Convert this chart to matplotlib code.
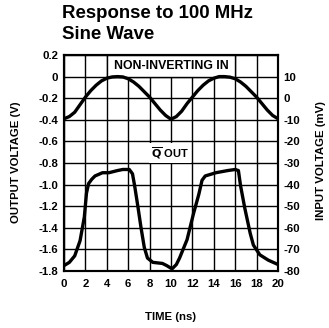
import matplotlib
matplotlib.use('Agg')
import matplotlib.pyplot as plt
from matplotlib.patches import Rectangle
import numpy as np

plt.rcParams['font.family'] = ['Liberation Sans', 'DejaVu Sans']
plt.rcParams['font.weight'] = 'bold'

# NON-INVERTING IN (read on the left axis, volts)
t_in = [0, 0.5, 1, 1.5, 2, 2.5, 3, 3.5, 4, 4.5, 5, 5.5, 6, 6.5, 7, 7.5, 8, 8.5, 9, 9.5,
        10, 10.5, 11, 11.5, 12, 12.5, 13, 13.5, 14, 14.5, 15, 15.5, 16, 16.5, 17, 17.5,
        18, 18.5, 19, 19.5, 20]
v_in = [-0.39, -0.37, -0.33, -0.26, -0.19, -0.13, -0.08, -0.04, -0.015, -0.003, 0.0,
        -0.003, -0.02, -0.05, -0.09, -0.14, -0.19, -0.25, -0.31, -0.36,
        -0.395, -0.37, -0.32, -0.25, -0.19, -0.13, -0.08, -0.04, -0.015, 0.0,
        0.0, -0.005, -0.02, -0.05, -0.09, -0.14, -0.19, -0.25, -0.31, -0.36, -0.39]

# Q-bar OUT (volts)
t_out = [0, 0.5, 1.0, 1.5, 1.9, 2.1, 2.3, 2.6, 2.9, 3.6, 4.2, 5.0, 5.5, 6.1, 6.4, 6.6,
         6.9, 7.2, 7.5, 7.8, 8.3, 9.2, 9.6, 10.1, 10.5, 10.8, 11.5, 12.1, 12.6, 12.9,
         13.2, 14.2, 15.3, 16.0, 16.3, 16.5, 16.9, 17.4, 17.7, 18.3, 19.1, 20]
v_out = [-1.75, -1.72, -1.66, -1.52, -1.30, -1.08, -0.99, -0.95, -0.92, -0.89, -0.89,
         -0.87, -0.86, -0.86, -0.90, -1.01, -1.20, -1.40, -1.58, -1.68, -1.72, -1.73,
         -1.75, -1.78, -1.74, -1.68, -1.51, -1.27, -1.09, -0.96, -0.92, -0.89, -0.87,
         -0.86, -0.87, -1.01, -1.22, -1.45, -1.56, -1.65, -1.70, -1.74]

x_ticks = [0, 2, 4, 6, 8, 10, 12, 14, 16, 18, 20]
y_ticks = [0.2, 0, -0.2, -0.4, -0.6, -0.8, -1.0, -1.2, -1.4, -1.6, -1.8]
y_labels = ['0.2', '0', '-0.2', '-0.4', '-0.6', '-0.8', '-1.0', '-1.2', '-1.4', '-1.6', '-1.8']
r_ticks = [10, 0, -10, -20, -30, -40, -50, -60, -70, -80]
r_labels = ['10', '0', '-10', '-20', '-30', '-40', '-50', '-60', '-70', '-80']

W, H = 329, 328
fig = plt.figure(figsize=(W / 100, H / 100), dpi=100)
ax = fig.add_axes([64 / W, 1 - 271 / H, 214 / W, 216 / H])

ax.set_xlim(0, 20)
ax.set_ylim(-1.8, 0.2)
ax.set_xticks(x_ticks)
ax.set_yticks(y_ticks)
ax.set_yticklabels(y_labels)
ax.grid(True, color='black', lw=1.0)
ax.set_axisbelow(True)
ax.tick_params(length=0, labelsize=8.2, pad=4)
ax.tick_params(axis='x', pad=6)
for s in ax.spines.values():
    s.set_linewidth(1.5)

ax.plot(t_in, v_in, color='black', lw=2.4, zorder=3, solid_capstyle='butt')
ax.plot(t_out, v_out, color='black', lw=2.4, zorder=3, solid_capstyle='butt')

ax.add_patch(Rectangle((4, 0), 12, 0.2, facecolor='white', edgecolor='black', lw=1.0, zorder=2))
ax.text(10, 0.1, 'NON-INVERTING IN', ha='center', va='center', fontsize=8.8, zorder=4)
ax.text(9.9, -0.71, r'$\overline{\mathbf{Q}}$ OUT', ha='center', va='center', fontsize=8,
        zorder=4, bbox=dict(facecolor='white', edgecolor='none', pad=1.5))

ax2 = ax.twinx()
ax2.set_ylim(-80, 20)
ax2.set_yticks(r_ticks)
ax2.set_yticklabels(r_labels)
ax2.tick_params(length=0, labelsize=8.2, pad=4)
for s in ax2.spines.values():
    s.set_linewidth(1.5)

fig.text(62 / W, 1 - 18.3 / H, 'Response to 100 MHz', fontsize=13.4, fontweight='bold', va='baseline')
fig.text(62 / W, 1 - 39.3 / H, 'Sine Wave', fontsize=13.4, fontweight='bold', va='baseline')
fig.text(16 / W, 1 - 162 / H, 'OUTPUT VOLTAGE (V)', rotation=90, ha='center', va='center', fontsize=8.2)
fig.text(321 / W, 1 - 161 / H, 'INPUT VOLTAGE (mV)', rotation=90, ha='center', va='center', fontsize=8.2)
fig.text(171 / W, 1 - 317.5 / H, 'TIME (ns)', ha='center', va='center', fontsize=8.2)

fig.savefig('out.png', dpi=100)
